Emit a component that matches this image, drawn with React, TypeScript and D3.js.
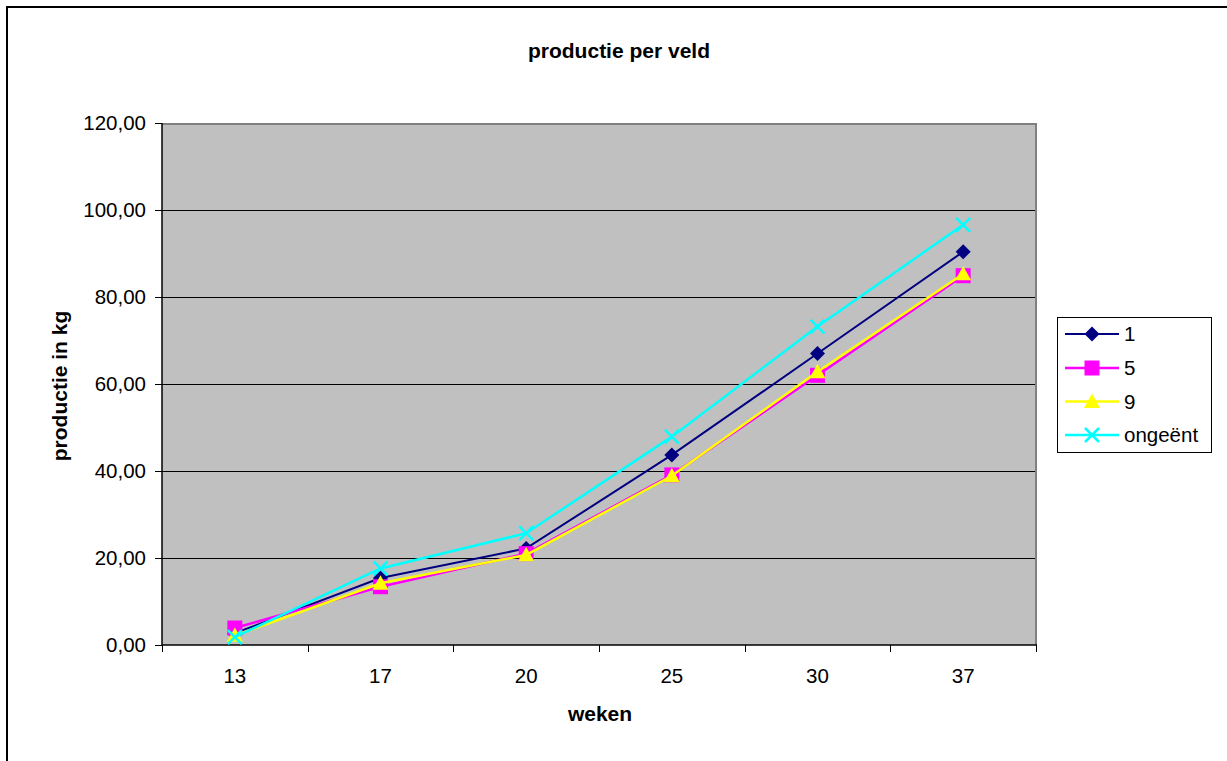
import React from "react";
import * as d3 from "d3";

// Weeks on the x axis
const weeks = ["13", "17", "20", "25", "30", "37"];

// Production per field (kg)
const veld1 = [2.7, 15.4, 22.2, 43.7, 67.0, 90.4];
const veld5 = [3.9, 13.4, 21.0, 39.1, 62.0, 84.9];
const veld9 = [2.2, 14.2, 20.7, 38.9, 62.8, 85.3];
const ongeent = [1.8, 17.6, 25.7, 47.9, 73.2, 96.6];

const yTicks = [0, 20, 40, 60, 80, 100, 120];

const seriesNames = ["1", "5", "9", "ongeënt"];
const seriesColors = ["#000080", "#FF00FF", "#FFFF00", "#00FFFF"];
const seriesMarkers = ["diamond", "square", "triangle", "cross"];

const W = 1227;
const H = 761;
const plot = { left: 162, top: 124, right: 1036, bottom: 645 };
const FONT = "'Liberation Sans', Arial, sans-serif";

function Marker({ kind, x, y, color }: { kind: string; x: number; y: number; color: string }) {
  if (kind === "diamond") {
    const s = 7.5;
    return <path d={`M${x},${y - s}L${x + s},${y}L${x},${y + s}L${x - s},${y}Z`} fill={color} />;
  }
  if (kind === "square") {
    const s = 7.5;
    return <rect x={x - s} y={y - s} width={2 * s} height={2 * s} fill={color} />;
  }
  if (kind === "triangle") {
    const s = 8;
    return <path d={`M${x},${y - s}L${x + s},${y + s * 0.8}L${x - s},${y + s * 0.8}Z`} fill={color} />;
  }
  const s = 7;
  return (
    <path
      d={`M${x - s},${y - s}L${x + s},${y + s}M${x - s},${y + s}L${x + s},${y - s}`}
      stroke={color}
      strokeWidth={2.5}
      fill="none"
    />
  );
}

const strokeFor = (i: number) => (i === 0 ? 2 : 2.5);

export default function App() {
  const x = d3.scaleBand<string>().domain(weeks).range([plot.left, plot.right]);
  const y = d3.scaleLinear().domain([0, 120]).range([plot.bottom, plot.top - 1]);
  const cx = (w: string) => (x(w) as number) + x.bandwidth() / 2;

  const allSeries = [veld1, veld5, veld9, ongeent];
  const line = d3
    .line<number>()
    .x((_, i) => cx(weeks[i]))
    .y((d) => y(d));

  const boundaries = weeks.map((w) => x(w) as number).concat([plot.right]);

  const legend = { x: 1057, y: 317, w: 154, h: 135 };
  const legendRowY = [334, 368, 401.5, 435];

  return (
    <svg
      width={W}
      height={H}
      style={{ position: "absolute", left: 0, top: 0, background: "#fff" }}
      fontFamily={FONT}
    >
      <rect x={7} y={7} width={W + 20} height={H + 20} fill="#fff" stroke="#000" strokeWidth={2} />

      <text x={619} y={58} textAnchor="middle" fontSize={21} fontWeight="bold">
        productie per veld
      </text>

      {/* plot area */}
      <rect x={plot.left} y={plot.top} width={plot.right - plot.left} height={plot.bottom - plot.top} fill="#C0C0C0" />
      {yTicks.slice(1, -1).map((t) => (
        <line key={t} x1={plot.left} x2={plot.right} y1={Math.round(y(t)) + 0.5} y2={Math.round(y(t)) + 0.5} stroke="#000" strokeWidth={1} />
      ))}
      <line x1={plot.left} x2={plot.right + 1} y1={plot.top} y2={plot.top} stroke="#808080" strokeWidth={2} />
      <line x1={plot.right} x2={plot.right} y1={plot.top} y2={plot.bottom} stroke="#808080" strokeWidth={2} />

      {/* axes */}
      <line x1={plot.left} x2={plot.left} y1={plot.top - 1} y2={plot.bottom} stroke="#000" strokeWidth={1.5} />
      <line x1={plot.left} x2={plot.right + 1} y1={plot.bottom} y2={plot.bottom} stroke="#000" strokeWidth={1.5} />
      {yTicks.map((t) => (
        <g key={t}>
          <line x1={155} x2={plot.left} y1={Math.round(y(t)) + 0.5} y2={Math.round(y(t)) + 0.5} stroke="#000" />
          <text x={146} y={y(t) + 7} textAnchor="end" fontSize={20.5}>
            {d3.format(".2f")(t).replace(".", ",")}
          </text>
        </g>
      ))}
      {boundaries.map((b, i) => (
        <line key={i} x1={Math.round(b) + 0.5} x2={Math.round(b) + 0.5} y1={plot.bottom} y2={652} stroke="#000" />
      ))}
      {weeks.map((w) => (
        <text key={w} x={cx(w)} y={683} textAnchor="middle" fontSize={20.5}>
          {w}
        </text>
      ))}

      <text x={600} y={721} textAnchor="middle" fontSize={21} fontWeight="bold">
        weken
      </text>
      <text
        transform={`translate(67,386) rotate(-90)`}
        textAnchor="middle"
        fontSize={21}
        fontWeight="bold"
      >
        productie in kg
      </text>

      {/* series */}
      {allSeries.map((s, si) => (
        <g key={si}>
          <path d={line(s) || ""} fill="none" stroke={seriesColors[si]} strokeWidth={strokeFor(si)} />
          {s.map((v, i) => (
            <Marker key={i} kind={seriesMarkers[si]} x={cx(weeks[i])} y={y(v)} color={seriesColors[si]} />
          ))}
        </g>
      ))}

      {/* legend */}
      <rect x={legend.x + 0.5} y={legend.y + 0.5} width={legend.w} height={legend.h} fill="#fff" stroke="#000" strokeWidth={1} />
      {seriesNames.map((n, i) => (
        <g key={n}>
          <line x1={1065} x2={1119} y1={legendRowY[i]} y2={legendRowY[i]} stroke={seriesColors[i]} strokeWidth={strokeFor(i)} />
          <Marker kind={seriesMarkers[i]} x={1092} y={legendRowY[i]} color={seriesColors[i]} />
          <text x={1124} y={legendRowY[i] + 7} fontSize={20.5}>
            {n}
          </text>
        </g>
      ))}
    </svg>
  );
}
